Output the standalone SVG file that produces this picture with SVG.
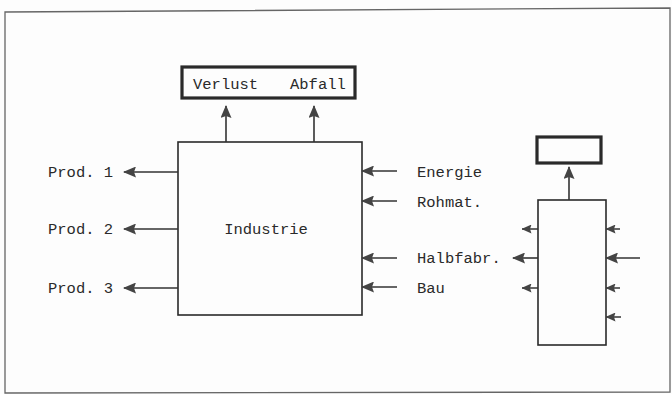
<svg xmlns="http://www.w3.org/2000/svg" width="672" height="394" viewBox="0 0 672 394">
<defs>
<marker id="ah" viewBox="0 0 13 11" refX="12" refY="5.5" markerWidth="13" markerHeight="11" markerUnits="userSpaceOnUse" orient="auto">
<path d="M0,0 L13,5.5 L0,11 L2,5.5 Z" fill="#444"/>
</marker>
<marker id="ahs" viewBox="0 0 10 9" refX="9.5" refY="4.5" markerWidth="10" markerHeight="9" markerUnits="userSpaceOnUse" orient="auto">
<path d="M0,0 L10,4.5 L0,9 L1.5,4.5 Z" fill="#444"/>
</marker>
<style>
.box{fill:none;stroke:#2a2a2a;stroke-width:1.6}
.thick{fill:none;stroke:#2a2a2a;stroke-width:3.2}
.ln{stroke:#333;stroke-width:1.6;fill:none;marker-end:url(#ah)}
.sl{stroke:#333;stroke-width:1.5;fill:none;marker-end:url(#ahs)}
text{font-family:"Liberation Mono","DejaVu Sans Mono",monospace;font-size:15.5px;fill:#2a2a2a}
</style>
</defs>
<rect width="672" height="394" fill="#fdfdfd"/>
<g id="frame"><path d="M5,12 L670,8 L670,392 L5,393 Z" fill="none" stroke="#666" stroke-width="1.3"/></g>
<g id="industrie"><rect class="box" x="178" y="142" width="184" height="173"/><text x="266" y="234" text-anchor="middle">Industrie</text></g>
<g id="verlust-abfall"><rect class="thick" x="182" y="67" width="173" height="31"/><text x="193" y="89">Verlust</text><text x="290" y="89">Abfall</text></g>
<g id="labels-left">
<text x="48" y="177">Prod. 1</text>
<text x="48" y="234">Prod. 2</text>
<text x="48" y="293">Prod. 3</text>
</g>
<g id="labels-right">
<text x="417" y="177">Energie</text>
<text x="417" y="207">Rohmat.</text>
<text x="417" y="263">Halbfabr.</text>
<text x="417" y="293">Bau</text>
</g>
<g id="small-box"><rect class="thick" x="537" y="137" width="64" height="26"/></g>
<g id="small-process"><rect class="box" x="538" y="200" width="68" height="145"/></g>
<g id="connectors">
<line class="ln" x1="226" y1="142" x2="226" y2="106"/>
<line class="ln" x1="314" y1="142" x2="314" y2="106"/>
<line class="ln" x1="178" y1="172" x2="124" y2="172"/>
<line class="ln" x1="178" y1="229" x2="124" y2="229"/>
<line class="ln" x1="178" y1="288" x2="124" y2="288"/>
<line class="ln" x1="397" y1="171" x2="362" y2="171"/>
<line class="ln" x1="397" y1="201" x2="362" y2="201"/>
<line class="ln" x1="397" y1="258" x2="362" y2="258"/>
<line class="ln" x1="397" y1="287" x2="362" y2="287"/>
<line class="ln" x1="569" y1="200" x2="569" y2="167"/>
<line class="sl" x1="538" y1="229" x2="522" y2="229"/>
<line class="ln" x1="538" y1="258" x2="513" y2="258"/>
<line class="sl" x1="538" y1="288" x2="522" y2="288"/>
<line class="sl" x1="620" y1="229" x2="606" y2="229"/>
<line class="ln" x1="640" y1="258" x2="606" y2="258"/>
<line class="sl" x1="620" y1="288" x2="606" y2="288"/>
<line class="sl" x1="621" y1="317" x2="606" y2="317"/>
</g>
</svg>
